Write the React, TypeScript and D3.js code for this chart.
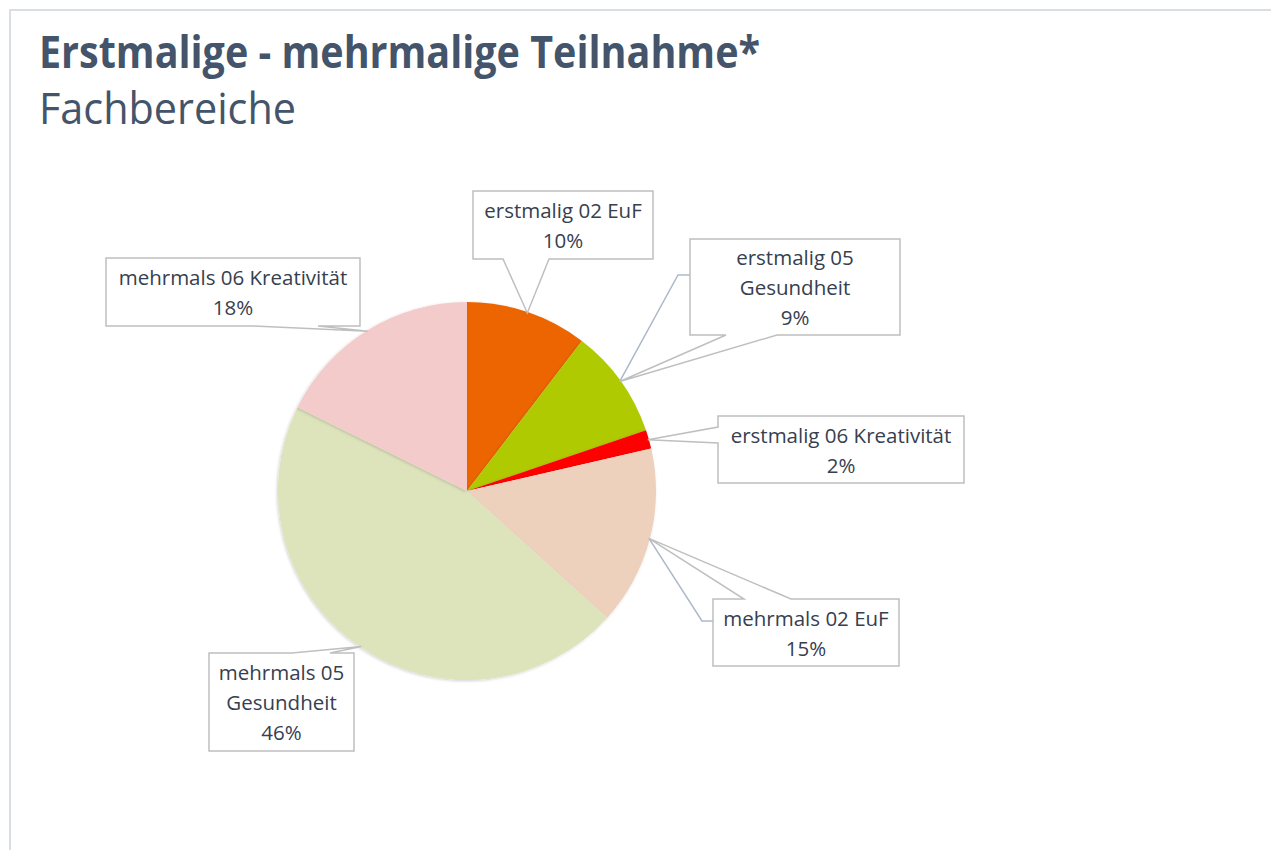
import React from 'react';
import * as d3 from 'd3';

// Data
const categories = [
  'erstmalig 02 EuF',
  'erstmalig 05 Gesundheit',
  'erstmalig 06 Kreativität',
  'mehrmals 02 EuF',
  'mehrmals 05 Gesundheit',
  'mehrmals 06 Kreativität',
];
const values = [10.4, 9.4, 1.6, 15.3, 45.6, 17.7];
const colors = ['#EC6500', '#AFCA05', '#FF0000', '#EDD1BD', '#DDE4BB', '#F3CBCB'];
// how each category name wraps inside its callout
const labelLines = [
  ['erstmalig 02 EuF'],
  ['erstmalig 05', 'Gesundheit'],
  ['erstmalig 06 Kreativität'],
  ['mehrmals 02 EuF'],
  ['mehrmals 05', 'Gesundheit'],
  ['mehrmals 06 Kreativität'],
];

// callout box layout (as placed in the original)
const callouts = [
  { x: 473, y: 191, w: 180, h: 68, edge: 'bottom', base: [503, 549] },
  { x: 690, y: 239, w: 210, h: 96, edge: 'bottom', base: [726, 777], elbow: [678, 275] },
  { x: 718, y: 416, w: 246, h: 67, edge: 'left', base: [427, 443] },
  { x: 713, y: 599, w: 186, h: 67, edge: 'top', base: [744, 791], elbow: [702, 621] },
  { x: 209, y: 653, w: 145, h: 98, edge: 'top', base: [292, 330] },
  { x: 106, y: 258, w: 254, h: 68, edge: 'bottom', base: [253, 318] },
];

const W = 1271;
const H = 850;
const cx = 467;
const cy = 491;
const R = 189;
const textColor = '#36404F';
const titleColor = '#44546A';
const font = "'Open Sans', 'Noto Sans', sans-serif";

function calloutPath(c: any, tip: [number, number]) {
  const { x, y, w, h, edge, base } = c;
  const [tx, ty] = tip;
  if (edge === 'bottom') {
    return `M${x},${y}H${x + w}V${y + h}H${base[1]}L${tx},${ty}L${base[0]},${y + h}H${x}Z`;
  }
  if (edge === 'top') {
    return `M${x},${y}H${base[0]}L${tx},${ty}L${base[1]},${y}H${x + w}V${y + h}H${x}Z`;
  }
  // left
  return `M${x},${y}H${x + w}V${y + h}H${x}V${base[1]}L${tx},${ty}L${x},${base[0]}Z`;
}

export default function App() {
  const total = d3.sum(values);
  const pct = d3.format('.0%');
  const pie = d3.pie<number>().sort(null).value((d) => d)(values);
  const arc = d3.arc<d3.PieArcDatum<number>>().innerRadius(0).outerRadius(R);
  const edgeArc = d3.arc<d3.PieArcDatum<number>>().innerRadius(R - 1).outerRadius(R - 1);

  return (
    <svg
      width={W}
      height={H}
      style={{ position: 'absolute', left: 0, top: 0, background: '#fff' }}
    >
      <defs>
        <filter id="sliceShadow" x="-20%" y="-20%" width="140%" height="140%">
          <feDropShadow dx="-1" dy="1" stdDeviation="1.8" floodColor="#000" floodOpacity="0.18" />
        </filter>
      </defs>

      {/* frame */}
      <path d={`M10,${H + 5}V10H${W + 5}`} fill="none" stroke="#D9DEE5" strokeWidth={2} />

      {/* titles */}
      <text
        x={39}
        y={68}
        fontFamily={font}
        fontWeight={700}
        fontSize={44}
        fill={titleColor}
        textLength={721}
        lengthAdjust="spacingAndGlyphs"
      >
        Erstmalige - mehrmalige Teilnahme*
      </text>
      <text
        x={39}
        y={124}
        fontFamily={font}
        fontWeight={400}
        fontSize={43}
        fill={titleColor}
        textLength={257}
        lengthAdjust="spacingAndGlyphs"
      >
        Fachbereiche
      </text>

      {/* pie */}
      <g transform={`translate(${cx},${cy})`}>
        {pie.map((d, i) => (
          <path key={i} d={arc(d) || ''} fill={colors[i]} filter="url(#sliceShadow)" />
        ))}
      </g>

      {/* callouts */}
      {pie.map((d, i) => {
        const c = callouts[i];
        const [px, py] = edgeArc.centroid(d);
        const tip: [number, number] = [cx + px, cy + py];
        const lines = [...labelLines[i], pct(d.value / total)];
        const lh = 30;
        const first = c.y + c.h / 2 - ((lines.length - 1) * lh) / 2 + 8;
        return (
          <g key={categories[i]}>
            {c.elbow && (
              <polyline
                points={`${tip[0]},${tip[1]} ${c.elbow[0]},${c.elbow[1]} ${c.x},${c.elbow[1]}`}
                fill="none"
                stroke="#ADB9CA"
                strokeWidth={1.5}
              />
            )}
            <path d={calloutPath(c, tip)} fill="#fff" stroke="#BFBFBF" strokeWidth={1.5} />
            <text
              x={c.x + c.w / 2}
              textAnchor="middle"
              fontFamily={font}
              fontSize={20.5}
              fill={textColor}
            >
              {lines.map((t, j) => (
                <tspan key={j} x={c.x + c.w / 2} y={first + j * lh}>
                  {t}
                </tspan>
              ))}
            </text>
          </g>
        );
      })}
    </svg>
  );
}
